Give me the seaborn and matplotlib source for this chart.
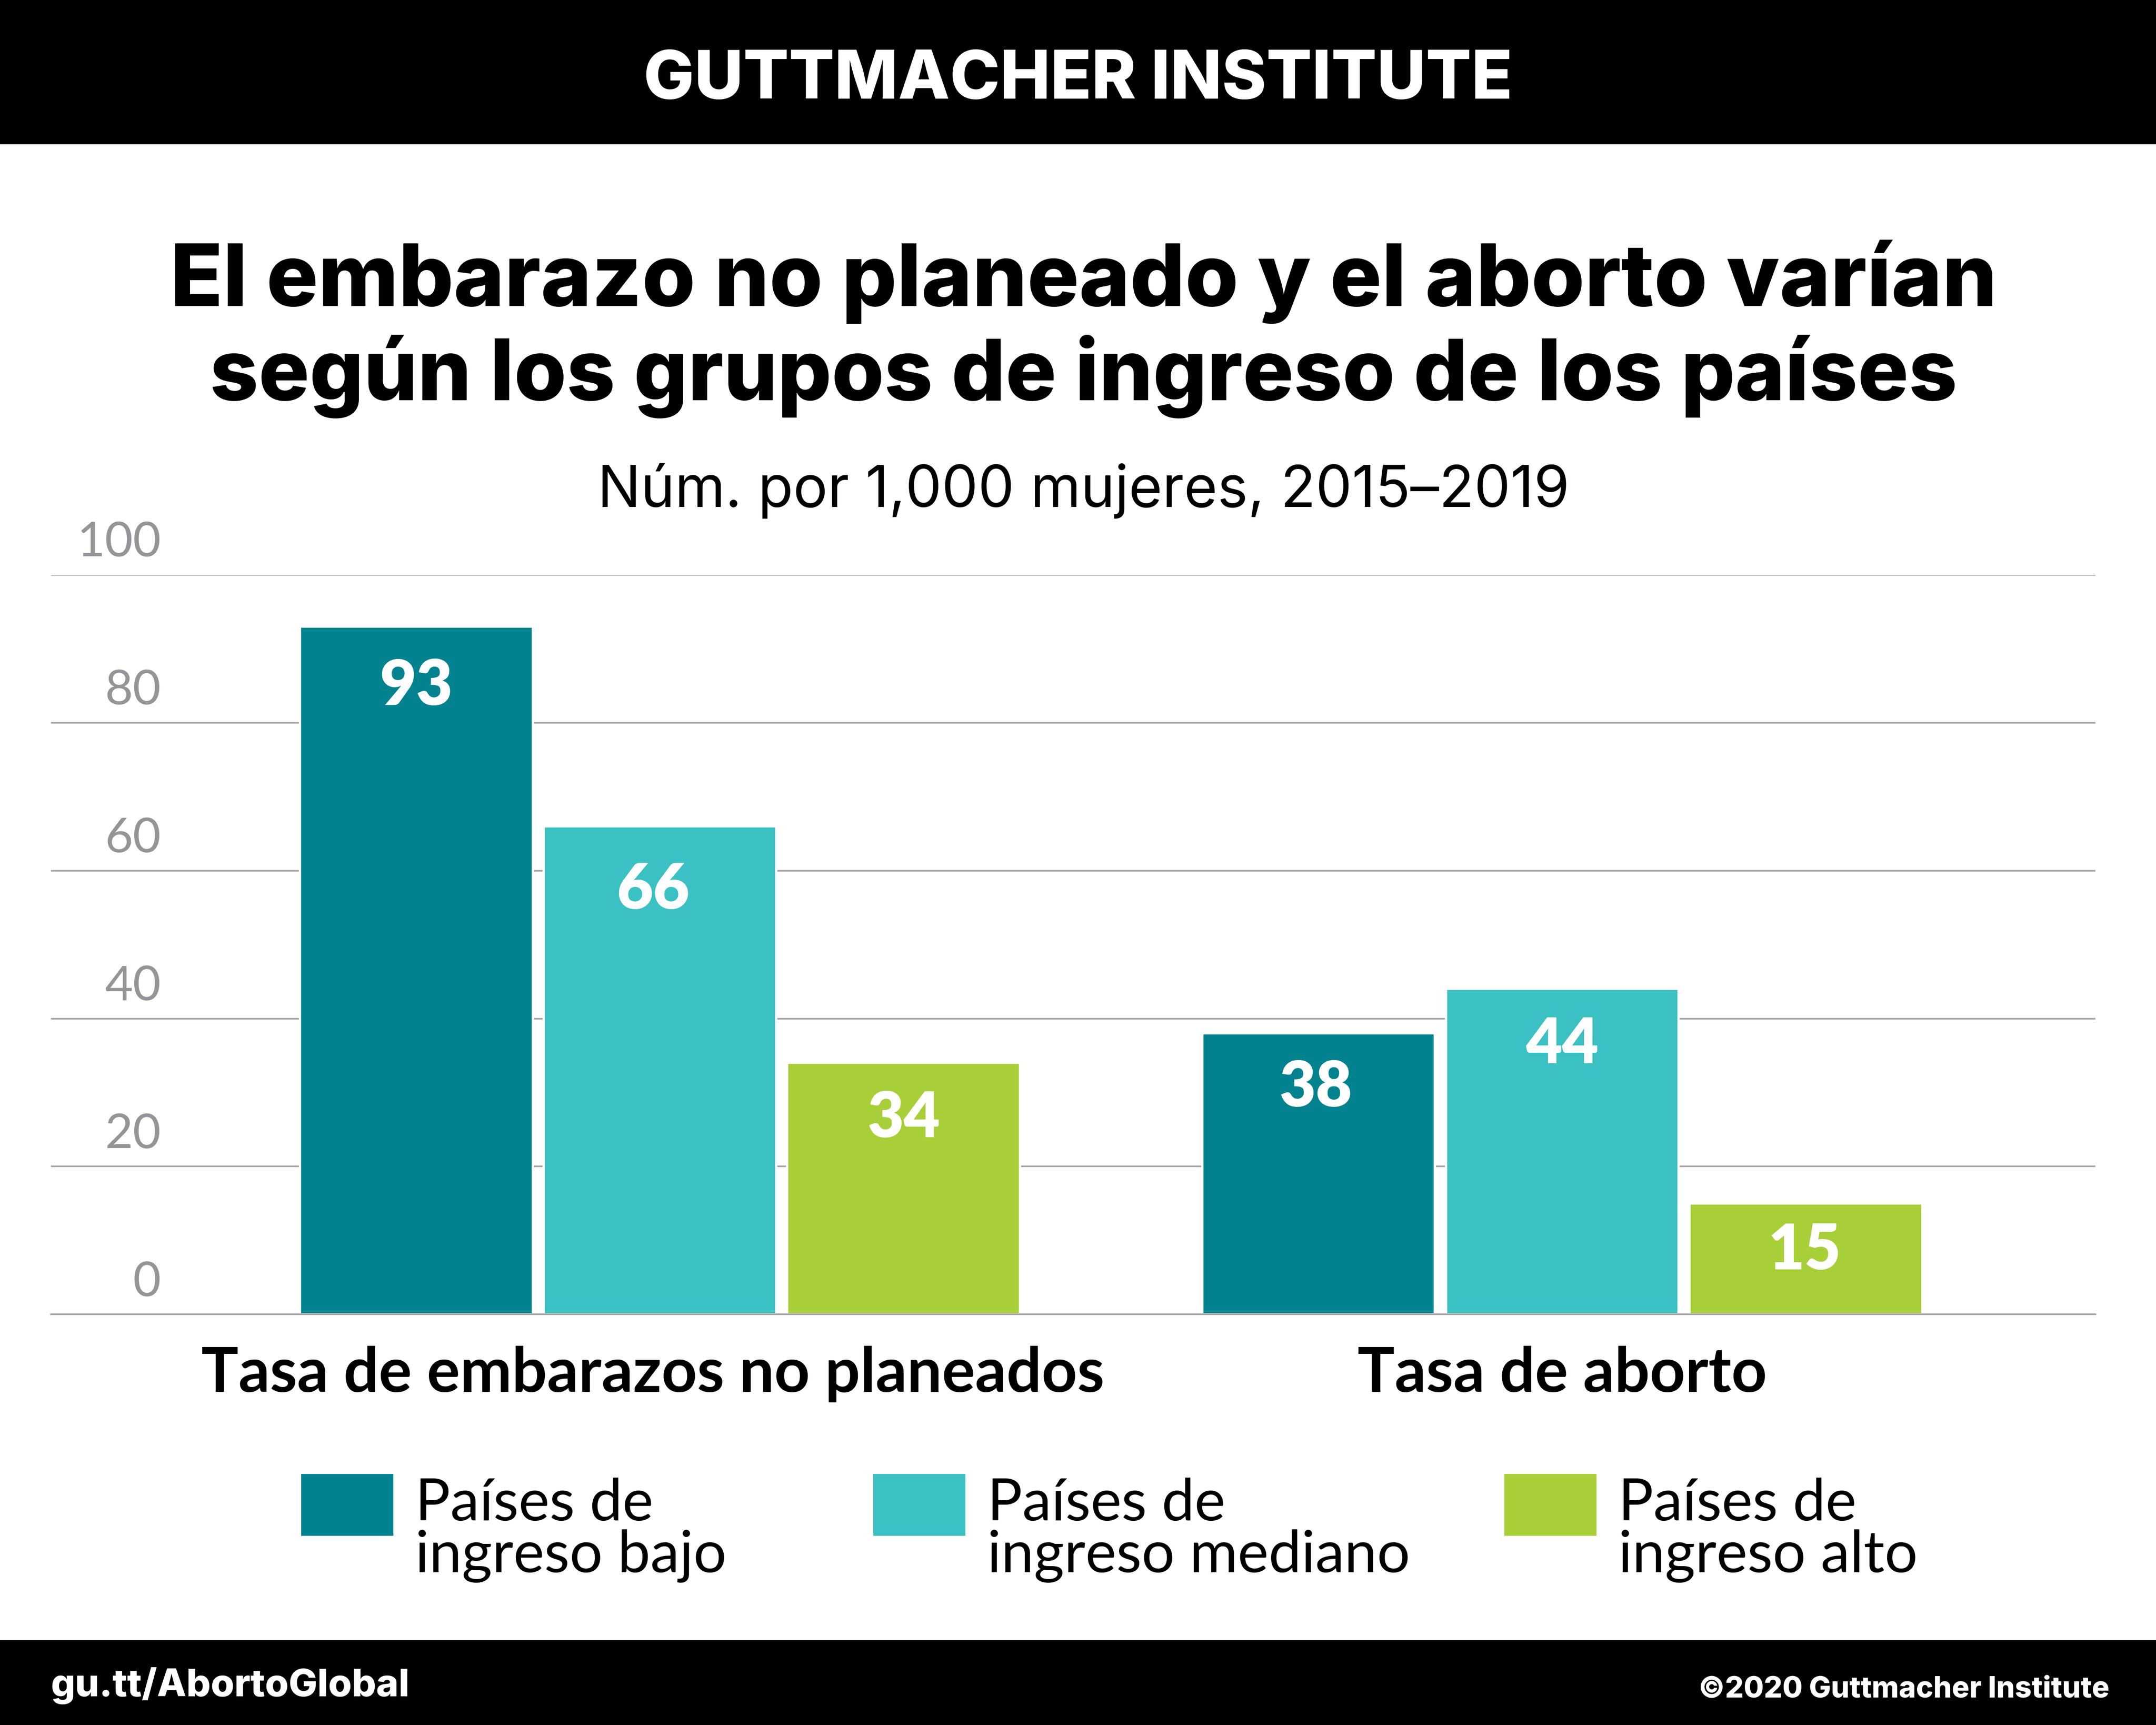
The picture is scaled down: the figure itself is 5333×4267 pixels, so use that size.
import pandas as pd
import numpy as np
import matplotlib.pyplot as plt
import seaborn as sns
from matplotlib.patches import Rectangle
from matplotlib.transforms import ScaledTranslation

categorias = ['Tasa de embarazos no planeados', 'Tasa de aborto']
grupos = ['Países de\ningreso bajo', 'Países de\ningreso mediano', 'Países de\ningreso alto']
valores_bajo = [93, 38]
valores_mediano = [66, 44]
valores_alto = [34, 15]
cores = ['#02828F', '#3BC0C3', '#A8CF38']
yticks = [0, 20, 40, 60, 80, 100]

W, H = 1568, 1254.6
PX_PT = 0.612  # pontos por pixel da imagem de referencia (1568 de largura)

# ajuste fino dos rotulos das barras, em pixels (dx, dy para baixo), por serie
ajustes = [[(0, 1), (-2, -3)], [(-5, 4), (0, -2)], [(0, -2), (-1, -8)]]

def fx(x):
    return x / W

def fy(y):
    return 1 - y / H

def main():
    sns.set_theme(style='white')
    plt.rcParams['font.family'] = ['Inter', 'DejaVu Sans']
    plt.rcParams['text.color'] = 'black'

    df = pd.DataFrame({
        'categoria': categorias * 3,
        'grupo': [g for g in grupos for _ in categorias],
        'valor': valores_bajo + valores_mediano + valores_alto,
    })

    fig = plt.figure(figsize=(5333 / 400, 4267 / 400), dpi=400, facecolor='white')
    ax = fig.add_axes([fx(37), fy(956), fx(1524) - fx(37), fy(418) - fy(956)])

    sns.barplot(data=df, x='categoria', y='valor', hue='grupo', hue_order=grupos,
                palette=cores, width=0.81, gap=0.045, saturation=1, legend=False, ax=ax)

    ax.set_xlim(-0.675, 1.591)
    ax.set_ylim(0, 100)
    ax.set_xlabel('')
    ax.set_ylabel('')
    ax.set_yticks(yticks)
    ax.set_axisbelow(True)
    ax.grid(axis='y', color='#A3A3A3', linewidth=0.7)
    ax.grid(axis='x', visible=False)
    for lado in ['top', 'left', 'right']:
        ax.spines[lado].set_visible(False)
    ax.spines['bottom'].set_color('#A3A3A3')
    ax.spines['bottom'].set_linewidth(0.7)

    # etiquetas do eixo y ficam acima das linhas
    ax.tick_params(axis='y', length=0, pad=-49, labelsize=21.5, labelcolor='#939598')
    for lab in ax.get_yticklabels():
        lab.set_transform(lab.get_transform() + ScaledTranslation(0, 0.222, fig.dpi_scale_trans))
        lab.set_fontfamily('Lato')

    ax.tick_params(axis='x', length=0, pad=14, labelsize=27.6, labelcolor='black')
    for lab in ax.get_xticklabels():
        lab.set_fontweight('bold')
        lab.set_fontfamily('Lato')
    primeira = ax.get_xticklabels()[0]
    primeira.set_transform(primeira.get_transform() + ScaledTranslation(-0.045, 0, fig.dpi_scale_trans))

    for cont, ajuste in zip(ax.containers, ajustes):
        rotulos = ax.bar_label(cont, padding=-39, color='white', fontsize=28, fontweight='heavy', family='Lato')
        for rot, (dx, dy) in zip(rotulos, ajuste):
            x, y = rot.xyann
            rot.xyann = (x + dx * PX_PT, y - dy * PX_PT)

    # faixas de cima e de baixo
    fig.add_artist(Rectangle((0, fy(105)), 1, 105 / H, transform=fig.transFigure, facecolor='black', linewidth=0))
    fig.add_artist(Rectangle((0, 0), 1, fy(1193), transform=fig.transFigure, facecolor='black', linewidth=0))

    fig.text(fx(784), fy(59), 'GUTTMACHER INSTITUTE', color='white', fontsize=30, fontweight='heavy',
             ha='center', va='center')
    fig.text(fx(788), fy(205), 'El embarazo no planeado y el aborto varían', fontsize=38.5, fontweight='heavy',
             ha='center', va='center')
    fig.text(fx(788), fy(274), 'según los grupos de ingreso de los países', fontsize=37.8, fontweight='heavy',
             ha='center', va='center')
    fig.text(fx(788), fy(357), 'Núm. por 1,000 mujeres, 2015–2019', fontsize=25.6, ha='center', va='center')

    fig.text(fx(37), fy(1226), 'gu.tt/AbortoGlobal', color='white', fontsize=17, fontweight='heavy',
             ha='left', va='center')
    fig.text(fx(1534), fy(1229), '©2020 Guttmacher Institute', color='white', fontsize=13, fontweight='heavy',
             ha='right', va='center')

    # legenda
    for x0, cor, texto in zip([219, 635, 1094], cores, grupos):
        fig.add_artist(Rectangle((fx(x0), fy(1117)), 67 / W, 45 / H, transform=fig.transFigure,
                                 facecolor=cor, linewidth=0))
        fig.text(fx(x0 + 83), fy(1113), texto, fontsize=26, family='Lato', linespacing=0.97,
                 ha='left', va='center')

    fig.savefig('out.png', dpi=400)
    plt.close(fig)

if __name__ == "__main__":
    main()
